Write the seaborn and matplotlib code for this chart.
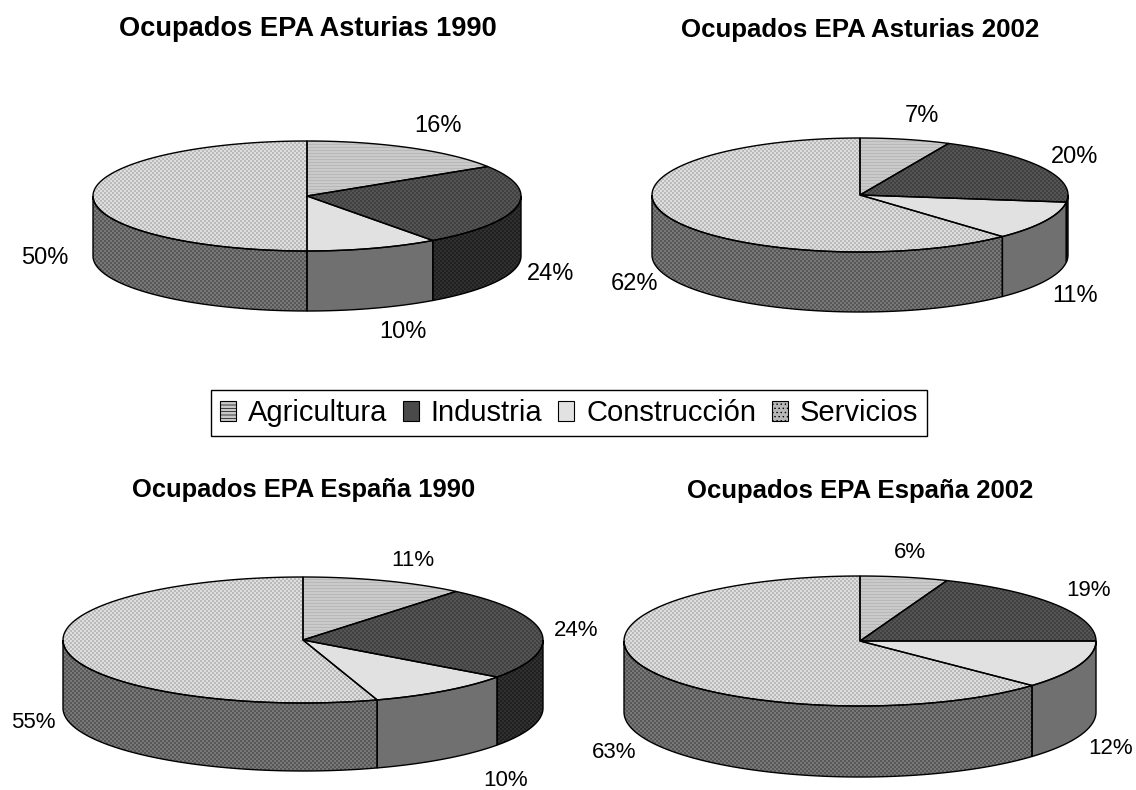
import numpy as np
import pandas as pd
import matplotlib
matplotlib.use("Agg")
import matplotlib.pyplot as plt
import seaborn as sns
from matplotlib.patches import Patch, Polygon

sectors = ["Agricultura", "Industria", "Construcción", "Servicios"]
asturias_1990 = [16, 24, 10, 50]
asturias_2002 = [7, 20, 11, 62]
espana_1990 = [11, 24, 10, 55]
espana_2002 = [6, 19, 12, 63]
titles = ["Ocupados EPA Asturias 1990", "Ocupados EPA Asturias 2002",
          "Ocupados EPA España 1990", "Ocupados EPA España 2002"]

W, H = 1136, 790

df = pd.DataFrame({
    "sector": sectors,
    titles[0]: asturias_1990,
    titles[1]: asturias_2002,
    titles[2]: espana_1990,
    titles[3]: espana_2002,
}).set_index("sector")

# cx, cy, rx, ry, depth, title centre, title size, label size
layout = {
    titles[0]: (307, 196, 214, 55, 60, (308, 29), 19.6, 17),
    titles[1]: (860, 195, 208, 57, 60, (860, 30), 18.6, 17),
    titles[2]: (303, 640, 240, 63, 68, (304, 490), 18.4, 16),
    titles[3]: (860, 641, 236, 65, 71, (860, 491), 18.5, 16),
}
label_pos = {
    titles[0]: [(438, 126), (551, 274), (403, 332), (45, 258)],
    titles[1]: [(922, 116), (1075, 157), (1075, 296), (634, 284)],
    titles[2]: [(413, 561), (576, 631), (506, 781), (33, 722)],
    titles[3]: [(910, 553), (1088, 591), (1111, 749), (614, 752)],
}


def tile_lines(a, b):
    yy = np.arange(H)[:, None] * np.ones((1, W))
    return np.where(yy % 3 == 0, a, b)


def tile_checker(a, b):
    yy, xx = np.mgrid[0:H, 0:W]
    return np.where((xx // 2 + yy // 2) % 2 == 0, a, b)


def tile_flat(a):
    return np.full((H, W), a)


top_tex = [tile_lines(0.72, 0.79), tile_checker(0.26, 0.33),
           tile_flat(0.88), tile_checker(0.73, 0.87)]
side_tex = [tile_lines(0.40, 0.50), tile_checker(0.13, 0.19),
            tile_flat(0.44), tile_checker(0.34, 0.47)]
swatch = sns.color_palette(["#c8c8c8", "#4a4a4a", "#e2e2e2", "#b8b8b8"])
hatches = ["-----", "", "", "...."]

sns.set_theme(style="white")
plt.rcParams["font.family"] = ["Liberation Sans", "DejaVu Sans"]
plt.rcParams["image.composite_image"] = False
plt.rcParams["hatch.linewidth"] = 0.5

fig = plt.figure(figsize=(W / 100, H / 100), dpi=100)
ax = fig.add_axes([0, 0, 1, 1])


def textured(ax, poly_xy, tex):
    poly = Polygon(poly_xy, closed=True, facecolor="none", edgecolor="black", lw=1.0, zorder=3)
    ax.add_patch(poly)
    im = ax.imshow(tex, cmap="gray", vmin=0, vmax=1, extent=(0, W, H, 0),
                   interpolation="nearest", aspect="auto", zorder=2)
    im.set_clip_path(poly)
    return poly


for title in titles:
    cx, cy, rx, ry, depth, tpos, tsize, lsize = layout[title]
    values = df[title].to_numpy(dtype=float)
    edges = np.concatenate([[0], np.cumsum(values)]) / values.sum() * 2 * np.pi

    for i in range(len(values)):
        # side wall: only the part of the rim facing the viewer
        lo, hi = max(edges[i], np.pi / 2), min(edges[i + 1], 3 * np.pi / 2)
        if hi > lo:
            t = np.linspace(lo, hi, 80)
            x = cx + rx * np.sin(t)
            y = cy - ry * np.cos(t)
            wall = np.r_[np.c_[x, y], np.c_[x[::-1], y[::-1] + depth]]
            textured(ax, wall, side_tex[i])

    for i in range(len(values)):
        t = np.linspace(edges[i], edges[i + 1], 120)
        x = cx + rx * np.sin(t)
        y = cy - ry * np.cos(t)
        wedge = np.r_[[[cx, cy]], np.c_[x, y]]
        textured(ax, wedge, top_tex[i])

    for val, pos in zip(df[title], label_pos[title]):
        ax.text(pos[0], pos[1], f"{val}%", fontsize=lsize, ha="center", va="center", color="black", zorder=5)
    ax.text(tpos[0], tpos[1], title, fontsize=tsize, fontweight="bold", ha="center", va="center", color="black", zorder=5)

ax.set_xlim(0, W)
ax.set_ylim(H, 0)
ax.axis("off")

handles = [Patch(facecolor=c, edgecolor="black", hatch=h, lw=0.8) for c, h in zip(swatch, hatches)]
leg = ax.legend(handles, sectors, loc="center", bbox_to_anchor=(569 / W, 1 - 413 / H), ncol=4,
                fontsize=21, frameon=True, fancybox=False, framealpha=1, edgecolor="black",
                labelcolor="black", handlelength=0.55, handleheight=0.7, handletextpad=0.4,
                columnspacing=0.55, borderpad=0.3, borderaxespad=0)
leg.get_frame().set_linewidth(1.0)
leg.set_zorder(6)

fig.savefig("out.png", dpi=100, facecolor="white")
